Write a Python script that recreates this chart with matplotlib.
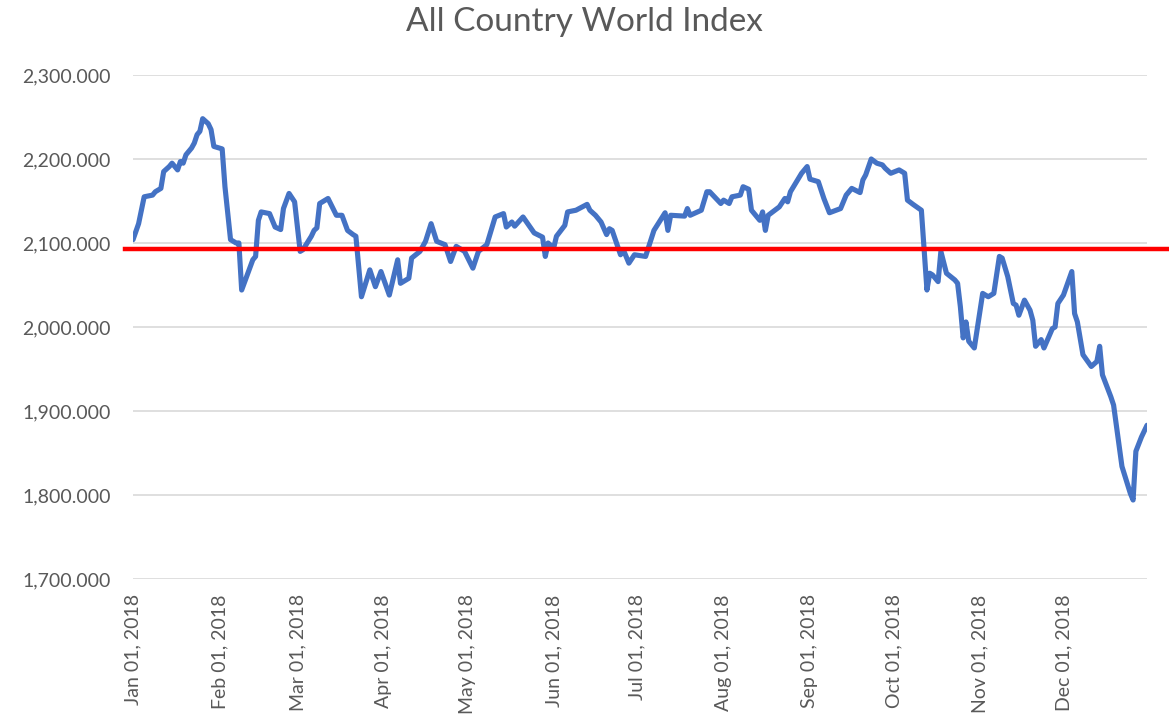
import pandas as pd
import matplotlib
matplotlib.use("Agg")
import matplotlib.pyplot as plt
import matplotlib.dates as mdates
from matplotlib.ticker import FuncFormatter

# days since Jan 01, 2018 and index level
day_of_year = [
    0, 2, 4, 7, 8, 10, 11, 13, 14, 16, 17, 18, 19, 21, 22, 23, 24, 25, 27, 28,
    29, 32, 33, 35, 37, 38, 39, 41, 43, 44, 45, 46, 49, 51, 53, 54, 56, 58, 60, 61,
    64, 65, 66, 67, 70, 73, 75, 77, 79, 80, 82, 85, 87, 89, 92, 95, 96, 99, 100, 103,
    105, 107, 109, 112, 114, 116, 119, 122, 124, 127, 130, 133, 134, 136, 137, 140, 144, 147, 148, 149,
    151, 152, 155, 156, 159, 163, 164, 166, 168, 170, 171, 172, 175, 176, 178, 180, 184, 187, 191, 192,
    193, 198, 199, 200, 204, 206, 207, 211, 212, 214, 215, 218, 219, 221, 222, 225, 226, 227, 228, 232,
    234, 235, 236, 240, 242, 243, 246, 248, 250, 254, 256, 258, 261, 262, 263, 265, 267, 269, 270, 272,
    275, 277, 278, 280, 283, 285, 286, 287, 289, 290, 292, 295, 296, 297, 298, 299, 300, 302, 305, 307,
    309, 311, 312, 314, 316, 317, 318, 320, 322, 323, 324, 326, 327, 330, 331, 332, 334, 337, 338, 339,
    341, 344, 346, 347, 348, 351, 352, 355, 358, 359, 360, 362, 364,
]
acwi = [
    2104, 2123, 2155, 2157, 2161, 2165, 2185, 2191, 2195, 2187, 2197, 2195, 2205, 2213, 2219, 2229, 2233, 2248, 2242, 2235,
    2215, 2212, 2167, 2104, 2100, 2100, 2044, 2062, 2080, 2084, 2127, 2137, 2135, 2119, 2116, 2141, 2159, 2149, 2090, 2092,
    2108, 2115, 2118, 2147, 2153, 2133, 2133, 2115, 2110, 2108, 2036, 2068, 2048, 2066, 2038, 2080, 2052, 2058, 2082, 2090,
    2102, 2123, 2102, 2098, 2078, 2096, 2090, 2070, 2090, 2098, 2131, 2135, 2119, 2125, 2120, 2131, 2112, 2107, 2084, 2100,
    2094, 2108, 2121, 2137, 2139, 2146, 2139, 2133, 2125, 2110, 2117, 2115, 2086, 2092, 2076, 2086, 2084, 2115, 2136, 2115,
    2133, 2132, 2141, 2133, 2139, 2161, 2161, 2147, 2151, 2147, 2155, 2157, 2167, 2164, 2139, 2127, 2137, 2115, 2133, 2143,
    2153, 2149, 2161, 2183, 2191, 2176, 2173, 2153, 2136, 2141, 2157, 2165, 2160, 2175, 2181, 2200, 2195, 2193, 2189, 2183,
    2187, 2183, 2151, 2146, 2139, 2044, 2064, 2062, 2054, 2090, 2064, 2056, 2052, 2024, 1987, 2006, 1983, 1975, 2040, 2036,
    2040, 2084, 2082, 2060, 2028, 2026, 2014, 2032, 2020, 2008, 1977, 1985, 1975, 1998, 2000, 2028, 2038, 2066, 2016, 2006,
    1967, 1953, 1959, 1977, 1943, 1917, 1907, 1834, 1802, 1794, 1852, 1869, 1883,
]
average_level = 2093

dates = pd.Timestamp("2018-01-01") + pd.to_timedelta(day_of_year, unit="D")
month_ticks = pd.date_range("2018-01-01", "2018-12-01", freq="MS")

plt.rcParams["font.family"] = ["Lato", "DejaVu Sans"]
grey = "#595959"

fig = plt.figure(figsize=(11.69, 7.26), dpi=100)
ax = fig.add_axes([0.1138, 0.2025, 0.8674, 0.6942])

ax.plot(dates, acwi, color="#4472C4", linewidth=3.7, solid_joinstyle="round",
        solid_capstyle="round", zorder=3)
ax.axhline(average_level, xmin=-0.008, xmax=1.03, color="#FF0000",
           linewidth=3.2, clip_on=False, zorder=4)

ax.set_ylim(1700, 2300)
ax.set_yticks(range(1700, 2301, 100))
ax.yaxis.set_major_formatter(FuncFormatter(lambda v, p: f"{v:,.3f}"))
ax.set_xlim(dates[0], dates[-1])
ax.set_xticks(month_ticks)
ax.xaxis.set_major_formatter(mdates.DateFormatter("%b %d, %Y"))
plt.setp(ax.get_xticklabels(), rotation=90)

ax.grid(axis="y", color="#D9D9D9", linewidth=1.2)
ax.set_axisbelow(True)
for s in ax.spines.values():
    s.set_visible(False)
ax.tick_params(axis="both", length=0, labelsize=14, labelcolor=grey)
ax.tick_params(axis="y", pad=16)
ax.tick_params(axis="x", pad=11)

fig.suptitle("All Country World Index", fontsize=24, color=grey, y=0.99)

fig.savefig("out.png", dpi=100)
